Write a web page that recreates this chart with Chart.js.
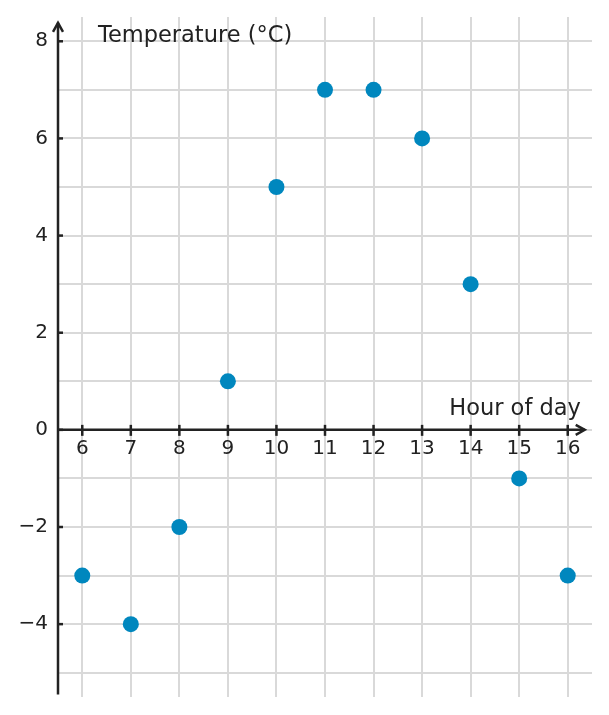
<!DOCTYPE html>
<html>
<head>
<meta charset="utf-8">
<script src="https://cdn.jsdelivr.net/npm/chart.js@4.4.1/dist/chart.umd.min.js"></script>
<style>
html,body{margin:0;padding:0;background:#fff;}
#c{display:block;}
</style>
</head>
<body>
<canvas id="c" width="609" height="715"></canvas>
<script>
const hours = [6, 7, 8, 9, 10, 11, 12, 13, 14, 15, 16];
const temperatures = [-3, -4, -2, 1, 5, 7, 7, 6, 3, -1, -3];
const xTicks = [6, 7, 8, 9, 10, 11, 12, 13, 14, 15, 16];
const yGrid = [-5, -4, -3, -2, -1, 0, 1, 2, 3, 4, 5, 6, 7, 8];
const yLabels = [-4, -2, 0, 2, 4, 6, 8];
const xTitle = 'Hour of day';
const yTitle = 'Temperature (°C)';

const FONT = '"DejaVu Sans", sans-serif';
const INK = '#222222';

const axesPlugin = {
  id: 'axesPlugin',
  afterDatasetsDraw(chart) {
    const ctx = chart.ctx;
    const xs = chart.scales.x, ys = chart.scales.y;
    const x0 = xs.getPixelForValue(xs.min);
    const y0 = ys.getPixelForValue(0);
    const yBottom = ys.getPixelForValue(-5.45);
    const yTop = ys.getPixelForValue(8.38);
    const xRight = xs.getPixelForValue(16.35);
    ctx.save();
    ctx.strokeStyle = INK;
    ctx.fillStyle = INK;
    ctx.lineWidth = 2.5;
    ctx.lineCap = 'butt';
    // y axis
    ctx.beginPath();
    ctx.moveTo(x0, yBottom);
    ctx.lineTo(x0, yTop);
    ctx.stroke();
    // x axis
    ctx.beginPath();
    ctx.moveTo(x0, y0);
    ctx.lineTo(xRight, y0);
    ctx.stroke();
    // arrows
    ctx.lineJoin = 'miter';
    ctx.beginPath();
    ctx.moveTo(x0 - 5, yTop + 9);
    ctx.lineTo(x0, yTop);
    ctx.lineTo(x0 + 5, yTop + 9);
    ctx.stroke();
    ctx.beginPath();
    ctx.moveTo(xRight - 9, y0 - 5);
    ctx.lineTo(xRight, y0);
    ctx.lineTo(xRight - 9, y0 + 5);
    ctx.stroke();
    // x ticks
    xTicks.forEach(v => {
      const px = xs.getPixelForValue(v);
      ctx.beginPath();
      ctx.moveTo(px, y0 - 5);
      ctx.lineTo(px, y0 + 6);
      ctx.stroke();
    });
    // y ticks
    yLabels.forEach(v => {
      const py = ys.getPixelForValue(v);
      ctx.beginPath();
      ctx.moveTo(x0, py);
      ctx.lineTo(x0 + 5, py);
      ctx.stroke();
    });
    // labels
    ctx.font = '20px ' + FONT;
    ctx.textAlign = 'center';
    ctx.textBaseline = 'middle';
    xTicks.forEach(v => {
      ctx.fillText(String(v), xs.getPixelForValue(v), y0 + 19);
    });
    ctx.textAlign = 'right';
    yLabels.forEach(v => {
      const s = v < 0 ? '\u2212' + Math.abs(v) : String(v);
      ctx.fillText(s, x0 - 10, ys.getPixelForValue(v));
    });
    // titles
    ctx.font = '22.5px ' + FONT;
    ctx.textAlign = 'left';
    ctx.textBaseline = 'middle';
    ctx.fillText(yTitle, x0 + 40, ys.getPixelForValue(8.1));
    ctx.textAlign = 'right';
    ctx.fillText(xTitle, xs.getPixelForValue(16.27), y0 - 21);
    ctx.restore();
  }
};

new Chart(document.getElementById('c'), {
  type: 'scatter',
  data: {
    datasets: [{
      data: hours.map((h, i) => ({x: h, y: temperatures[i]})),
      backgroundColor: '#0087be',
      borderColor: '#0087be',
      pointRadius: 8,
      pointHoverRadius: 8,
      borderWidth: 0
    }]
  },
  options: {
    responsive: false,
    animation: false,
    devicePixelRatio: 1,
    layout: { padding: { left: 58, right: 17, top: 17, bottom: 18 } },
    plugins: { legend: { display: false }, tooltip: { enabled: false } },
    scales: {
      x: {
        type: 'linear', min: 5.5, max: 16.5,
        afterBuildTicks: s => { s.ticks = xTicks.map(v => ({value: v})); },
        ticks: { display: false },
        grid: { color: '#d9d9d9', lineWidth: 2, drawTicks: false },
        border: { display: false }
      },
      y: {
        type: 'linear', min: -5.5, max: 8.5,
        afterBuildTicks: s => { s.ticks = yGrid.map(v => ({value: v})); },
        ticks: { display: false },
        grid: { color: '#d9d9d9', lineWidth: 2, drawTicks: false },
        border: { display: false }
      }
    }
  },
  plugins: [axesPlugin]
});
</script>
</body>
</html>
